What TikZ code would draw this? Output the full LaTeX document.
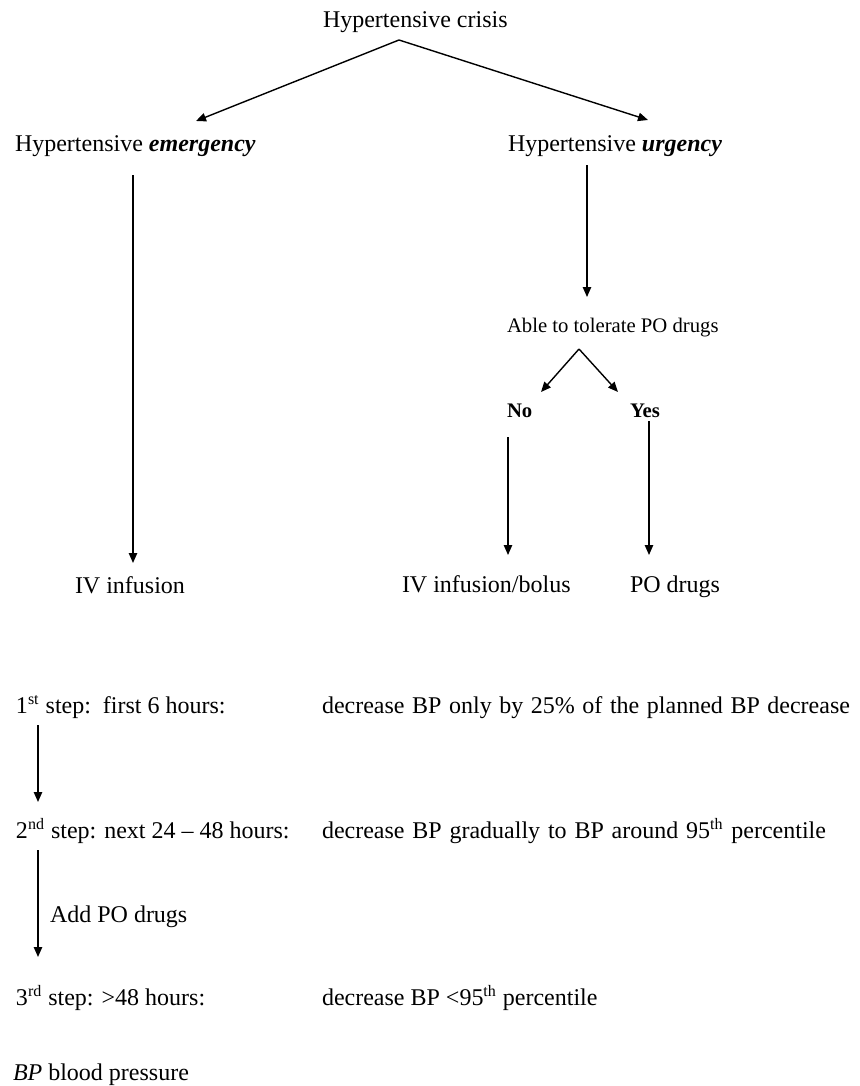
\documentclass[tikz,border=0pt]{standalone}
\usepackage{fontspec}
\setmainfont{Liberation Serif}
\usetikzlibrary{arrows.meta}
\begin{document}
\begin{tikzpicture}[x=0.5pt,y=-0.5pt,
  txt/.style={inner sep=0pt,outer sep=0pt,anchor=base west,font=\fontsize{12}{14}\selectfont},
  small/.style={inner sep=0pt,outer sep=0pt,anchor=base west,font=\fontsize{10.35}{12}\selectfont},
  arr/.style={line width=0.7pt,-{Triangle[length=5pt,width=4.2pt]}}]
\useasboundingbox[fill=white] (0,0) rectangle (859,1086);
% text nodes
\node[txt] (crisis) at (323,28) {Hypertensive crisis};
\node[txt] (emerg) at (15,151) {Hypertensive \textbf{\textit{emergency}}};
\node[txt] (urg) at (508,151) {Hypertensive \textbf{\textit{urgency}}};
\node[small] (able) at (507,332) {Able to tolerate PO drugs};
\node[small] (no) at (507,417) {\textbf{No}};
\node[small] (yes) at (630,417) {\textbf{Yes}};
\node[txt] (iv) at (75,593) {IV infusion};
\node[txt] (ivb) at (402,592) {IV infusion/bolus};
\node[txt] (po) at (630,592) {PO drugs};
\node[txt] (s1) at (16,713) {1\textsuperscript{st} step:\ \ first 6 hours:};
\node[txt] (d1) at (322,713) {\makebox[264pt][s]{decrease BP only by 25\% of the planned BP decrease}};
\node[txt] (s2) at (16,838) {2\textsuperscript{nd} step: next 24 \textendash\ 48 hours:};
\node[txt] (d2) at (322,838) {\makebox[252pt][s]{decrease BP gradually to BP around 95\textsuperscript{th} percentile}};
\node[txt] (add) at (50,922) {Add PO drugs};
\node[txt] (s3) at (16,1005) {3\textsuperscript{rd} step: >48 hours:};
\node[txt] (d3) at (322,1005) {decrease BP <95\textsuperscript{th} percentile};
\node[txt] (bp) at (13,1080) {\textit{BP} blood pressure};
% connector ends
\coordinate (crisisOut) at (399,40);
\coordinate (emergIn) at (196,121);
\coordinate (urgIn) at (648,120);
\coordinate (emergOut) at (133,175);
\coordinate (ivIn) at (133,563);
\coordinate (urgOut) at (587,165);
\coordinate (ableIn) at (587,297);
\coordinate (ableOut) at (579,349);
\coordinate (noIn) at (541,392);
\coordinate (yesIn) at (618,392);
\coordinate (noOut) at (508,437);
\coordinate (ivbIn) at (508,555);
\coordinate (yesOut) at (649,421);
\coordinate (poIn) at (649,555);
\coordinate (s1Out) at (38,725);
\coordinate (s2In) at (38,802);
\coordinate (s2Out) at (38,850);
\coordinate (s3In) at (38,957);
% connectors
\draw[arr] (crisisOut) -- (emergIn);
\draw[arr] (crisisOut) -- (urgIn);
\draw[arr] (emergOut) -- (ivIn);
\draw[arr] (urgOut) -- (ableIn);
\draw[arr] (ableOut) -- (noIn);
\draw[arr] (ableOut) -- (yesIn);
\draw[arr] (noOut) -- (ivbIn);
\draw[arr] (yesOut) -- (poIn);
\draw[arr] (s1Out) -- (s2In);
\draw[arr] (s2Out) -- (s3In);
\end{tikzpicture}
\end{document}
